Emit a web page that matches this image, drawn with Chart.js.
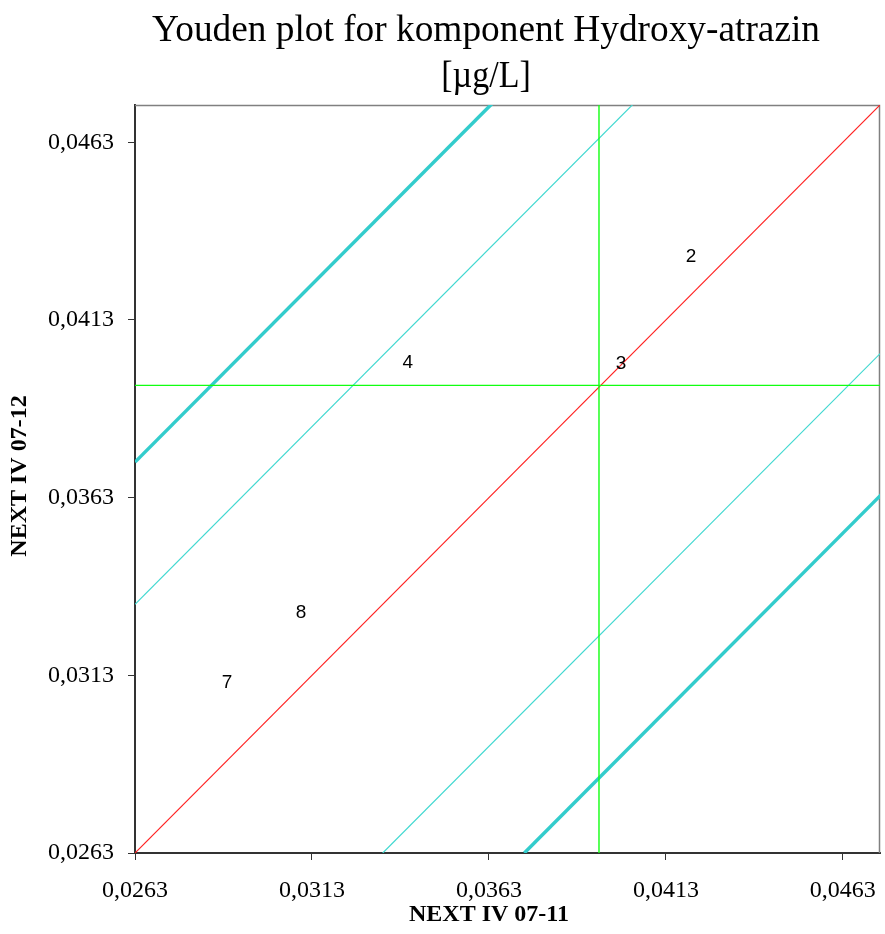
<!DOCTYPE html>
<html>
<head>
<meta charset="utf-8">
<script src="https://cdn.jsdelivr.net/npm/chart.js@4.4.1/dist/chart.umd.min.js"></script>
<style>
  body { margin: 0; background: #fff; }
  #chart { display: block; }
</style>
</head>
<body>
<canvas id="chart" width="885" height="934"></canvas>
<script>
// Axis range and ticks
var axisMin = 0.0263;
var axisMax = 0.04735;
var tickValues = [0.0263, 0.0313, 0.0363, 0.0413, 0.0463];

// Lab results (x = NEXT IV 07-11, y = NEXT IV 07-12)
var labNames = ['2', '3', '4', '8', '7'];
var labX = [0.04201, 0.04003, 0.03401, 0.03099, 0.0289];
var labY = [0.04307, 0.04008, 0.0401, 0.03305, 0.03108];

// Median lines
var medianX = 0.03941;
var medianY = 0.03946;

// Diagonal lines, endpoints [x, y]
var diagLine = [[0.0263, 0.0263], [0.0480, 0.0480]];
var innerUpper = [[0.0263, 0.0333], [0.0410, 0.0480]];
var innerLower = [[0.0333, 0.0263], [0.0480, 0.0410]];
var outerUpper = [[0.0263, 0.0373], [0.0370, 0.0480]];
var outerLower = [[0.0373, 0.0263], [0.0480, 0.0370]];

function pts(arr) {
  return arr.map(function(p) { return {x: p[0], y: p[1]}; });
}

function lineSet(data, color, width) {
  return {
    data: data,
    showLine: true,
    borderColor: color,
    backgroundColor: color,
    borderWidth: width,
    pointRadius: 0,
    pointHoverRadius: 0
  };
}

function fmt(v) {
  return v.toFixed(4).replace('.', ',');
}

// Draw box, titles and lab labels
var extras = {
  id: 'extras',
  beforeDatasetsDraw: function(chart) {
    var ctx = chart.ctx, a = chart.chartArea;
    ctx.save();
    ctx.strokeStyle = '#808080';
    ctx.lineWidth = 1.5;
    ctx.beginPath();
    ctx.moveTo(a.left, a.top + 0.5);
    ctx.lineTo(a.right - 0.5, a.top + 0.5);
    ctx.lineTo(a.right - 0.5, a.bottom);
    ctx.stroke();
    ctx.restore();
  },
  afterDraw: function(chart) {
    var ctx = chart.ctx;
    var xs = chart.scales.x, ys = chart.scales.y;
    ctx.save();
    ctx.fillStyle = '#000';
    ctx.textAlign = 'center';
    ctx.textBaseline = 'middle';

    // main title, slightly condensed
    ctx.font = '37px "Liberation Serif", "Times New Roman", serif';
    var t1 = 'Youden plot for komponent Hydroxy-atrazin';
    var w = ctx.measureText(t1).width;
    ctx.save();
    ctx.translate(486, 31);
    ctx.scale(668 / w, 1);
    ctx.fillText(t1, 0, 0);
    ctx.restore();
    ctx.save();
    ctx.translate(486, 77);
    ctx.scale(0.92, 1);
    ctx.fillText('[\u00b5g/L]', 0, 0);
    ctx.restore();

    // axis titles
    ctx.font = 'bold 24px "Liberation Serif", "Times New Roman", serif';
    ctx.fillText('NEXT IV 07-11', 489, 915);
    ctx.save();
    ctx.translate(20, 476);
    ctx.rotate(-Math.PI / 2);
    ctx.fillText('NEXT IV 07-12', 0, 0);
    ctx.restore();

    // lab labels
    ctx.font = '19px "Liberation Sans", Arial, sans-serif';
    for (var i = 0; i < labNames.length; i++) {
      ctx.fillText(labNames[i], xs.getPixelForValue(labX[i]), ys.getPixelForValue(labY[i]));
    }
    ctx.restore();
  }
};

window.onload = function() {
  new Chart('chart', {
    type: 'scatter',
    data: {
      datasets: [
        lineSet([{x: axisMin, y: medianY}, {x: 0.0480, y: medianY}], '#11ff11', 1.4),
        lineSet([{x: medianX, y: axisMin}, {x: medianX, y: 0.0480}], '#11ff11', 1.4),
        lineSet(pts(innerUpper), '#40d8d0', 1.2),
        lineSet(pts(innerLower), '#40d8d0', 1.2),
        lineSet(pts(outerUpper), '#33cccc', 3.5),
        lineSet(pts(outerLower), '#33cccc', 3.5),
        lineSet(pts(diagLine), '#ff2020', 1.2)
      ]
    },
    options: {
      responsive: false,
      animation: false,
      events: [],
      layout: { padding: { top: 105, right: 5, left: 0, bottom: 0 } },
      plugins: {
        legend: { display: false },
        title: { display: false },
        tooltip: { enabled: false }
      },
      scales: {
        x: {
          type: 'linear',
          min: axisMin,
          max: axisMax,
          afterBuildTicks: function(s) {
            s.ticks = tickValues.map(function(v) { return {value: v}; });
          },
          afterFit: function(s) { s.height = 81; s.paddingLeft = 0; s.paddingRight = 0; },
          grid: { drawOnChartArea: false, drawTicks: true, tickLength: 7, color: '#333' },
          border: { display: true, color: '#333', width: 2 },
          ticks: {
            maxRotation: 0,
            padding: 16,
            color: '#000',
            font: { family: '"Liberation Serif", "Times New Roman", serif', size: 24 },
            callback: function(v) { return fmt(v); }
          }
        },
        y: {
          type: 'linear',
          min: axisMin,
          max: axisMax,
          afterBuildTicks: function(s) {
            s.ticks = tickValues.map(function(v) { return {value: v}; });
          },
          afterFit: function(s) { s.width = 135; s.paddingTop = 0; s.paddingBottom = 0; },
          grid: { drawOnChartArea: false, drawTicks: true, tickLength: 7, color: '#333' },
          border: { display: true, color: '#333', width: 2 },
          ticks: {
            padding: 14,
            color: '#000',
            font: { family: '"Liberation Serif", "Times New Roman", serif', size: 24 },
            callback: function(v) { return fmt(v); }
          }
        }
      }
    },
    plugins: [extras]
  });
};
</script>
</body>
</html>
